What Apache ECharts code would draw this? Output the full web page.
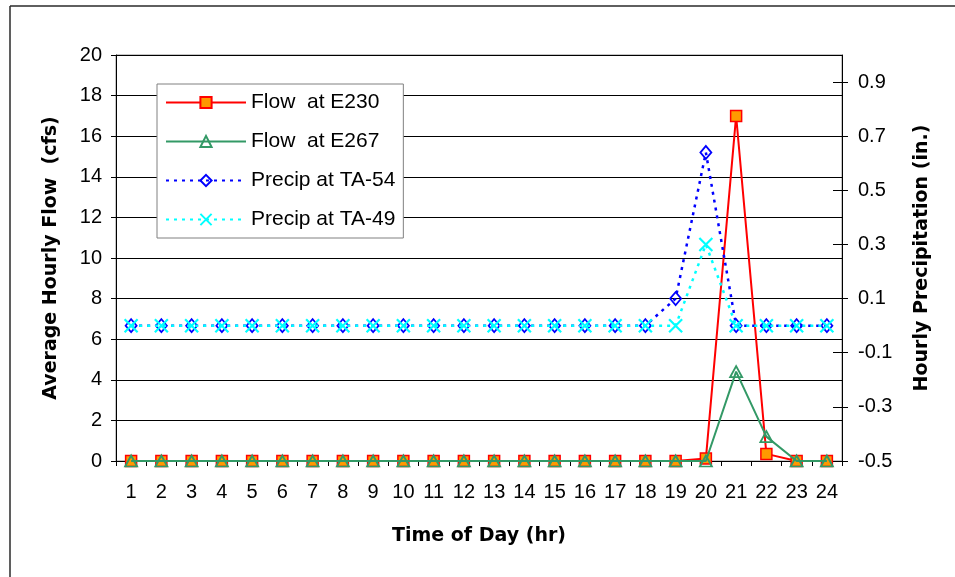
<!DOCTYPE html>
<html>
<head>
<meta charset="utf-8">
<script src="https://cdn.jsdelivr.net/npm/echarts@6/dist/echarts.min.js"></script>
<style>
  html, body { margin: 0; padding: 0; background: #ffffff; }
  #chart { width: 955px; height: 577px; }
</style>
</head>
<body>
<div id="chart"></div>
<script>
// Hour of day categories
const hours = ['1','2','3','4','5','6','7','8','9','10','11','12',
               '13','14','15','16','17','18','19','20','21','22','23','24'];

// Average hourly flow (cfs)
const flowE230 = [0,0,0,0,0,0,0,0,0,0,0,0,0,0,0,0,0,0,0,0.12,17,0.35,0,0];
const flowE267 = [0,0,0,0,0,0,0,0,0,0,0,0,0,0,0,0,0,0,0,0,4.4,1.2,0,0];

// Hourly precipitation (in.)
const precipTA54 = [0,0,0,0,0,0,0,0,0,0,0,0,0,0,0,0,0,0,0.1,0.64,0,0,0,0];
const precipTA49 = [0,0,0,0,0,0,0,0,0,0,0,0,0,0,0,0,0,0,0,0.3,0,0,0,0];

// Right-axis tick values
const precipTicks = [-0.5, -0.3, -0.1, 0.1, 0.3, 0.5, 0.7, 0.9];

const FONT = 'Liberation Sans, Arial, sans-serif';
const TITLE_FONT = 'DejaVu Sans, Verdana, sans-serif';

const chart = echarts.init(document.getElementById('chart'), null, { renderer: 'canvas' });

const precipAxisBase = {
  type: 'value',
  position: 'right',
  min: -0.5,
  max: 1.0,
  splitLine: { show: false }
};

chart.setOption({
  animation: false,
  backgroundColor: '#ffffff',
  grid: {
    left: 116, right: 113, top: 55, bottom: 116,
    show: true, borderColor: '#8c8c8c', borderWidth: 1, backgroundColor: 'transparent'
  },
  graphic: [
    { type: 'line', shape: { x1: 10, y1: 6, x2: 955, y2: 6 }, style: { stroke: '#2a2a2a', lineWidth: 1.5 } },
    { type: 'line', shape: { x1: 10, y1: 6, x2: 10, y2: 577 }, style: { stroke: '#2a2a2a', lineWidth: 1.5 } }
  ],
  legend: {
    left: 157, top: 84,
    orient: 'vertical',
    padding: [8, 8, 8, 8],
    itemWidth: 80, itemHeight: 14, itemGap: 18,
    backgroundColor: '#ffffff',
    borderColor: '#808080', borderWidth: 1,
    textStyle: { fontFamily: FONT, fontSize: 21, color: '#000' },
    data: ['Flow  at E230', 'Flow  at E267', 'Precip at TA-54', 'Precip at TA-49']
  },
  xAxis: {
    type: 'category',
    data: hours,
    boundaryGap: true,
    axisLine: { lineStyle: { color: '#000', width: 1 } },
    axisTick: { show: true, length: 5, alignWithLabel: false, lineStyle: { color: '#000' } },
    axisLabel: { fontFamily: FONT, fontSize: 20, color: '#000', margin: 21, interval: 0 },
    name: 'Time of Day (hr)',
    nameLocation: 'middle',
    nameGap: 66,
    nameTextStyle: { fontFamily: TITLE_FONT, fontWeight: 'bold', fontSize: 19, color: '#000' }
  },
  yAxis: [
    {
      type: 'value',
      position: 'left',
      min: 0, max: 20, interval: 2,
      axisLine: { show: true, lineStyle: { color: '#000', width: 1 } },
      axisTick: { show: true, length: 5, lineStyle: { color: '#000' } },
      axisLabel: { fontFamily: FONT, fontSize: 20, color: '#000', margin: 14 },
      splitLine: { show: true, lineStyle: { color: '#000', width: 1 } },
      name: 'Average Hourly Flow  (cfs)',
      nameLocation: 'middle',
      nameRotate: 90,
      nameGap: 55,
      nameTextStyle: { fontFamily: TITLE_FONT, fontWeight: 'bold', fontSize: 19, color: '#000' }
    },
    Object.assign({}, precipAxisBase, {
      axisLine: { show: true, lineStyle: { color: '#000', width: 1 } },
      axisTick: { show: true, length: 6, customValues: precipTicks, lineStyle: { color: '#000' } },
      axisLabel: {
        fontFamily: FONT, fontSize: 20, color: '#000', margin: 16,
        customValues: precipTicks,
        formatter: v => v.toFixed(1)
      },
      name: 'Hourly Precipitation (in.)',
      nameLocation: 'middle',
      nameRotate: 90,
      nameGap: 71,
      nameTextStyle: { fontFamily: TITLE_FONT, fontWeight: 'bold', fontSize: 19, color: '#000' }
    }),
    Object.assign({}, precipAxisBase, {
      axisLine: { show: false },
      axisTick: { show: true, inside: true, length: 9, customValues: precipTicks, lineStyle: { color: '#000' } },
      axisLabel: { show: false }
    })
  ],
  series: [
    {
      name: 'Flow  at E230',
      type: 'line',
      data: flowE230,
      yAxisIndex: 0,
      symbol: 'rect',
      symbolSize: 11,
      lineStyle: { color: '#ff0000', width: 2 },
      itemStyle: { color: '#ff9900', borderColor: '#ff0000', borderWidth: 1.5 },
      z: 2
    },
    {
      name: 'Flow  at E267',
      type: 'line',
      data: flowE267,
      yAxisIndex: 0,
      symbol: 'triangle',
      symbolSize: [12, 11],
      lineStyle: { color: '#339966', width: 2 },
      itemStyle: { color: 'rgba(0,0,0,0)', borderColor: '#339966', borderWidth: 1.8 },
      z: 3
    },
    {
      name: 'Precip at TA-54',
      type: 'line',
      data: precipTA54,
      yAxisIndex: 1,
      symbol: 'diamond',
      symbolSize: [11, 13],
      lineStyle: { color: '#0000ff', width: 2.5, type: [3, 5] },
      itemStyle: { color: 'rgba(0,0,0,0)', borderColor: '#0000ff', borderWidth: 1.8 },
      z: 4
    },
    {
      name: 'Precip at TA-49',
      type: 'line',
      data: precipTA49,
      yAxisIndex: 1,
      symbol: 'path://M0,0L10,10M10,0L0,10',
      symbolSize: 13,
      lineStyle: { color: '#00ffff', width: 2.5, type: [3, 5] },
      itemStyle: { color: 'rgba(0,0,0,0)', borderColor: '#00ffff', borderWidth: 2.2 },
      z: 5
    }
  ]
});
</script>
</body>
</html>
